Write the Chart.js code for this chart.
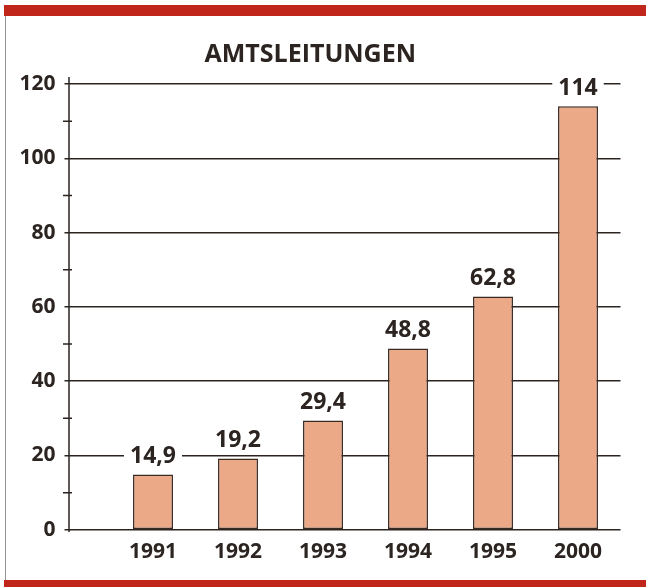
<!DOCTYPE html>
<html>
<head>
<meta charset="utf-8">
<script src="https://cdn.jsdelivr.net/npm/chart.js@4"></script>
<style>
    html, body { margin: 0; padding: 0; background: #fff; }
    #wrap { position: relative; width: 646px; height: 587px; overflow: hidden; }
    #chart { position: absolute; left: 0; top: 0; }
    .band { position: absolute; left: 4px; right: 0; background: #c1261a; }
    #band-top { top: 5px; height: 11px; }
    #band-bottom { top: 580px; height: 7px; }
    #edge-left { position: absolute; left: 5px; top: 16px; width: 1px; height: 564px; background: #9a9490; }
</style>
</head>
<body>
<div id="wrap">
    <canvas id="chart" width="646" height="587"></canvas>
    <div class="band" id="band-top"></div>
    <div class="band" id="band-bottom"></div>
    <div id="edge-left"></div>
</div>
<script>
    // data
    const years = ["1991", "1992", "1993", "1994", "1995", "2000"];
    const lines = [14.9, 19.2, 29.4, 48.8, 62.8, 114];
    const majorTicks = [0, 20, 40, 60, 80, 100, 120];
    const minorTicks = [10, 30, 50, 70, 90, 110];

    const ink = "#2b2421";
    const fontFamily = "'Open Sans', sans-serif";

    // vertical axis line and the small in-between ticks
    const axisPlugin = {
        id: "axisLine",
        afterDatasetsDraw(chart) {
            const ctx = chart.ctx;
            const y = chart.scales.y;
            const x0 = 69;
            ctx.save();
            ctx.strokeStyle = ink;
            ctx.lineWidth = 1.5;
            ctx.beginPath();
            ctx.moveTo(x0, y.getPixelForValue(-0.6));
            ctx.lineTo(x0, y.getPixelForValue(121.9));
            minorTicks.forEach(function (v) {
                const py = y.getPixelForValue(v);
                ctx.moveTo(x0 - 6, py);
                ctx.lineTo(x0 + 3, py);
            });
            ctx.stroke();
            ctx.restore();
        }
    };

    // value labels above bars, on a white patch that cuts the grid line
    const valuePlugin = {
        id: "valueLabels",
        afterDatasetsDraw(chart) {
            const ctx = chart.ctx;
            const meta = chart.getDatasetMeta(0);
            ctx.save();
            ctx.font = "bold 23px " + fontFamily;
            ctx.textAlign = "center";
            ctx.textBaseline = "middle";
            meta.data.forEach(function (bar, i) {
                const txt = lines[i].toLocaleString("de-DE");
                const cy = bar.y - 19;
                const w = ctx.measureText(txt).width;
                ctx.fillStyle = "#fff";
                ctx.fillRect(bar.x - w / 2 - 6, cy - 10, w + 12, 20);
                ctx.fillStyle = ink;
                ctx.fillText(txt, bar.x, cy + 1);
            });
            ctx.restore();
        }
    };

    const ctx = document.getElementById("chart").getContext("2d");
    const chart = new Chart(ctx, {
        type: "bar",
        data: {
            labels: years,
            datasets: [
                {
                    label: "Amtsleitungen",
                    data: lines,
                    backgroundColor: "#eca987",
                    borderColor: "#3a2a22",
                    borderWidth: 1.5,
                    borderSkipped: false,
                    barPercentage: 0.47,
                    categoryPercentage: 1
                }
            ]
        },
        options: {
            responsive: false,
            animation: false,
            layout: {
                padding: { left: 0, right: 25.5, top: 0, bottom: 12 }
            },
            plugins: {
                legend: { display: false },
                tooltip: { enabled: false },
                title: {
                    display: true,
                    text: "AMTSLEITUNGEN",
                    color: ink,
                    font: { family: fontFamily, size: 25, weight: "bold" },
                    padding: { top: 40, bottom: 14 }
                }
            },
            scales: {
                x: {
                    grid: { display: false, drawTicks: false },
                    border: { display: false },
                    ticks: {
                        color: ink,
                        padding: 10,
                        font: { family: fontFamily, size: 21, weight: "bold" }
                    }
                },
                y: {
                    min: 0,
                    max: 120,
                    afterFit: function (scale) { scale.width = 110.5; },
                    afterBuildTicks: function (scale) {
                        scale.ticks = majorTicks.map(function (v) { return { value: v }; });
                    },
                    border: { display: false },
                    grid: {
                        color: ink,
                        lineWidth: 1.5,
                        tickLength: 46,
                        tickColor: ink
                    },
                    ticks: {
                        color: ink,
                        padding: 9,
                        font: { family: fontFamily, size: 21, weight: "bold" }
                    }
                }
            }
        },
        plugins: [axisPlugin, valuePlugin]
    });
</script>
</body>
</html>
